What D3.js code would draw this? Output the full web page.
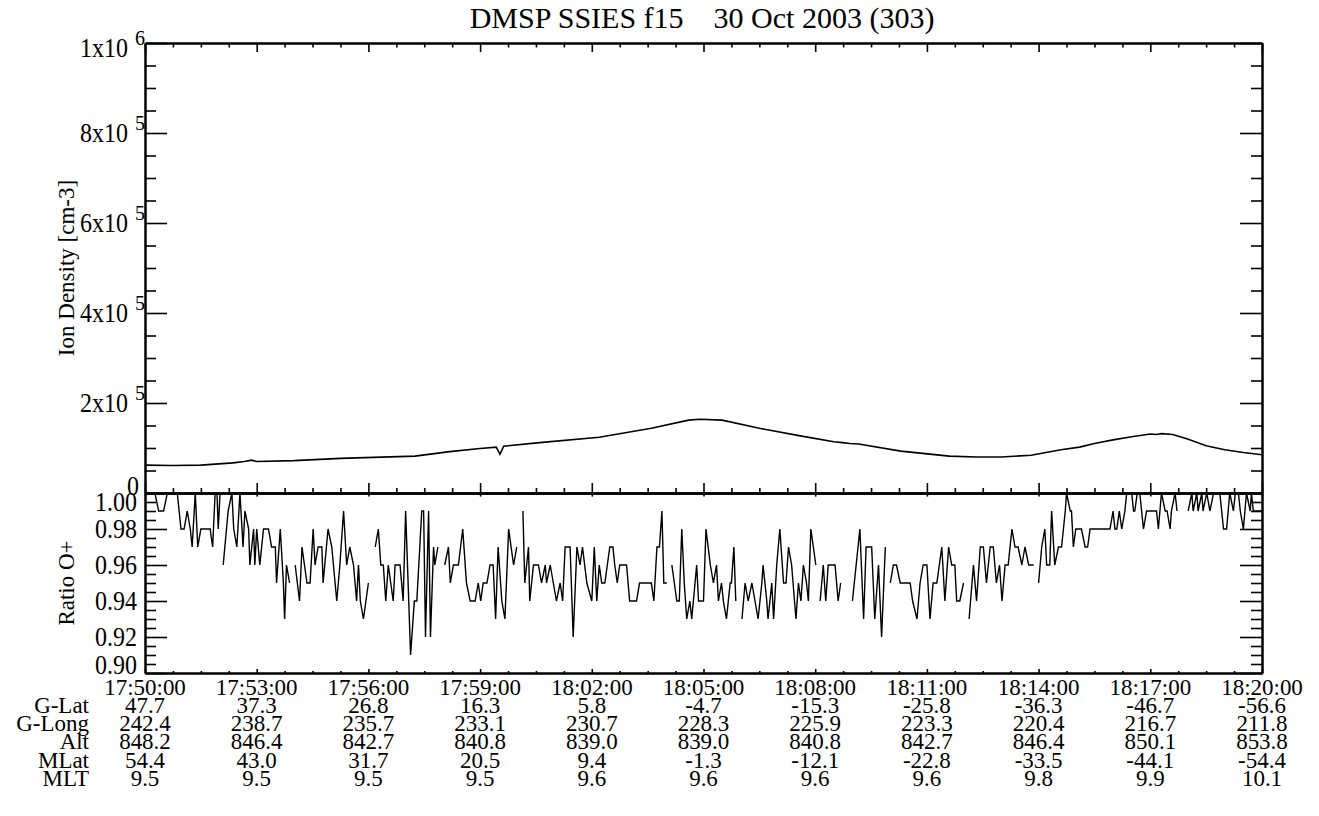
<!DOCTYPE html>
<html>
<head>
<meta charset="utf-8">
<script src="https://cdn.jsdelivr.net/npm/d3@7"></script>
<style>
  body { margin: 0; background: #fff; }
  svg text { font-family: "Liberation Serif", "Times New Roman", serif; fill: #000; white-space: pre; }
  .axis .domain { stroke: #000; stroke-width: 2; }
  .axis line { stroke: #000; stroke-width: 1.6; }
</style>
</head>
<body>
<div id="chart"></div>
<script>
(function(){

  var width = 1319, height = 816;

  // ---- data ----
  var timeLabels = ["17:50:00","17:53:00","17:56:00","17:59:00","18:02:00","18:05:00",
                    "18:08:00","18:11:00","18:14:00","18:17:00","18:20:00"];
  var tickSec = [0,180,360,540,720,900,1080,1260,1440,1620,1800];

  var rowNames = ["G-Lat","G-Long","Alt","MLat","MLT"];
  var gLat  = [47.7,37.3,26.8,16.3,5.8,-4.7,-15.3,-25.8,-36.3,-46.7,-56.6];
  var gLong = [242.4,238.7,235.7,233.1,230.7,228.3,225.9,223.3,220.4,216.7,211.8];
  var alt   = [848.2,846.4,842.7,840.8,839.0,839.0,840.8,842.7,846.4,850.1,853.8];
  var mLat  = [54.4,43.0,31.7,20.5,9.4,-1.3,-12.1,-22.8,-33.5,-44.1,-54.4];
  var mlt   = [9.5,9.5,9.5,9.5,9.6,9.6,9.6,9.6,9.8,9.9,10.1];

  var densTicks  = [0,2e5,4e5,6e5,8e5,1e6];
  var densMant   = ["0","2x10","4x10","6x10","8x10","1x10"];
  var densExp    = ["","5","5","5","5","6"];
  var ratioTicks = [0.90,0.92,0.94,0.96,0.98,1.00];

  // ion density, seconds after 17:50:00 and cm-3 (thousands)
  var densSec = [0,45,90,142,160,172,180,240,315,435,491,540,566,572,578,636,732,816,
                 876,894,930,990,1056,1110,1124,1136,1150,1218,1296,1340,1380,1428,1476,
                 1506,1530,1560,1590,1620,1630,1638,1656,1680,1710,1740,1770,1800];
  var densVal = [62,61,62,67,70,73,70,72,77,82,92,99,102,86,104,112,124,144,
                 162,164,162,144,127,114,112,110,109,93,82,80,80,84,96,
                 102,110,118,125,131,130,132,130,120,105,96,90,85];

  // O+ ratio, null = data gap
  var ratioSec = [
    0,8,16,22,30,36,44,52,58,63,68,73,76,81,85,90,95,100,105,109,113,116,118,121,124,
    126,134,140,143,148,153,158,161,167,169,175,177,180,185,191,199,204,210,212,218,223,225,228,233,237,
    242,249,253,261,266,271,274,279,285,287,295,301,309,314,320,325,330,336,341,344,347,352,360,365,
    371,376,380,384,388,392,400,403,411,416,420,428,434,438,446,449,452,457,460,465,467,472,477,
    483,489,492,497,505,512,518,524,532,537,541,545,551,556,561,565,569,575,580,586,594,599,604,
    609,612,618,620,626,634,639,645,647,653,658,663,669,673,677,685,690,696,701,705,712,720,724,728,
    732,736,741,749,754,757,761,765,771,776,781,787,792,797,808,816,820,825,829,833,836,841,845,
    849,857,861,865,869,873,878,881,889,892,900,904,911,916,921,924,929,932,937,943,945,949,952,957,
    962,967,972,978,983,988,994,996,1002,1004,1010,1013,1018,1023,1029,1033,1037,1042,1049,1053,
    1057,1061,1066,1069,1073,1077,1081,1084,
    1088,1093,1097,1101,1107,1112,1117,1121,1130,
    1140,1146,1152,1158,1162,1168,1171,1176,1182,1187,1193,1197,
    1201,1206,1211,1217,1221,1226,1233,1237,1244,1249,1254,1260,1265,1270,1276,1284,1289,1295,
    1300,1305,1308,1313,1319,1323,
    1328,1335,1340,1346,1351,1356,1362,1367,1372,1377,1381,1386,1391,1397,1402,1407,1413,1418,
    1424,1426,1432,1436,
    1440,1445,1450,1453,1458,1461,1466,1472,1477,1483,1485,1491,1493,1496,1500,1504,1509,1515,
    1519,1523,1534,1544,1555,1560,1563,1566,1570,1574,1579,1582,1587,1593,1595,1599,1603,1609,
    1614,1620,1625,1630,1633,1638,1644,1647,1652,1654,1660,1663,1672,
    1681,1687,1689,1695,1697,1703,1705,1711,1716,1722,1727,1732,1738,1743,1748,1754,1757,1762,
    1765,1770,1775,1781,1783,1786,1791,1796,1800];
  var ratioVal = [
    1.00,1.00,1.00,0.99,0.99,1.00,1.01,1.00,0.98,0.98,0.99,0.98,0.97,1.00,0.97,0.98,0.98,0.98,0.98,0.97,1.00,1.00,0.98,1.00,null,
    0.96,0.99,1.00,0.98,0.97,1.00,0.97,0.99,0.98,0.96,0.98,0.96,0.98,0.96,0.98,0.98,0.97,0.97,0.95,0.98,0.95,0.93,0.96,0.95,null,
    0.96,0.94,0.97,0.95,0.95,0.98,0.96,0.97,0.97,0.95,0.98,0.97,0.94,0.96,0.99,0.96,0.97,0.96,0.94,0.96,0.94,0.93,0.95,null,
    0.97,0.98,0.96,0.96,0.94,0.96,0.94,0.96,0.96,0.94,0.99,0.91,0.94,0.94,0.99,0.99,0.92,0.99,0.92,0.97,0.96,0.97,null,
    0.96,0.97,0.95,0.96,0.96,0.98,0.95,0.94,0.94,0.95,0.94,0.95,0.95,0.96,0.96,0.93,0.97,0.94,0.93,0.98,0.96,0.97,null,
    0.99,0.95,0.97,0.94,0.96,0.96,0.95,0.96,0.95,0.96,0.95,0.94,0.95,0.94,0.97,0.97,0.92,0.97,0.96,0.97,0.95,0.94,0.97,0.94,
    0.96,0.95,0.95,0.97,0.97,0.96,0.95,0.96,0.96,0.96,0.94,0.94,0.94,0.95,0.95,0.95,0.94,0.97,0.97,0.99,0.95,0.95,null,
    0.96,0.94,0.94,0.98,0.95,0.93,0.94,0.93,0.96,0.94,0.94,0.98,0.96,0.95,0.96,0.94,0.95,0.94,0.93,0.95,0.95,0.97,0.94,null,
    0.93,0.95,0.94,0.95,0.94,0.93,0.95,0.96,0.94,0.93,0.95,0.93,0.96,0.98,0.95,0.95,0.97,0.96,0.93,0.95,
    0.94,0.96,0.95,0.94,0.98,0.97,0.96,null,
    0.94,0.96,0.94,0.96,0.96,0.96,0.94,0.95,null,
    0.94,0.96,0.98,0.93,0.97,0.97,0.97,0.93,0.96,0.92,0.97,null,
    0.95,0.96,0.96,0.95,0.95,0.95,0.95,0.94,0.93,0.95,0.96,0.96,0.93,0.95,0.95,0.97,0.94,0.97,
    0.96,0.96,0.94,0.94,0.95,null,
    0.93,0.96,0.94,0.97,0.97,0.95,0.97,0.97,0.95,0.96,0.94,0.96,0.96,0.98,0.97,0.97,0.96,0.97,
    0.96,0.96,0.96,null,
    0.95,0.97,0.98,0.96,0.96,0.99,0.96,0.97,0.97,0.99,1.00,0.99,0.99,0.97,0.98,0.98,0.98,0.97,
    0.97,0.98,0.98,0.98,0.98,0.99,0.98,0.98,0.99,0.98,0.99,1.00,1.01,0.99,0.99,1.00,1.00,0.98,
    0.99,0.99,0.99,0.99,0.98,1.00,0.99,0.99,0.98,0.99,1.00,0.99,null,
    0.99,1.00,0.99,1.00,0.99,1.00,0.99,1.00,0.99,1.00,1.01,1.00,0.98,0.98,1.00,0.99,1.00,1.00,
    0.99,0.98,1.00,0.99,1.00,0.99,0.99,0.99,0.99];

  // ---- layout ----
  var left = 145, right = 1262;
  var topTop = 43, topBot = 493, botBot = 673;

  var x  = d3.scaleLinear().domain([0,1800]).range([left,right]);
  var yD = d3.scaleLinear().domain([0,1e6]).range([topBot,topTop]);
  var yR = d3.scaleLinear().domain([0.90,1.00]).range([botBot,topBot]);

  var minorSec   = d3.range(0,1801,45).filter(function(s){ return s % 180 !== 0; });
  var minorDens  = d3.range(0,1e6+1,5e4).filter(function(v){ return v % 2e5 !== 0; });
  var minorRatio = d3.range(0,21).map(function(i){ return 0.90 + i*0.005; })
                     .filter(function(v,i){ return i % 4 !== 0; });

  var svg = d3.select("#chart").append("svg")
      .attr("width", width)
      .attr("height", height);

  svg.append("rect").attr("width", width).attr("height", height).attr("fill", "#fff");

  function label(g, px, py, s, anchor, size, rot, sy){
    var tr = "translate(" + px + "," + py + ")" + (rot ? " rotate(" + rot + ")" : "") +
             " scale(1," + (sy || 1.1) + ")";
    return g.append("text")
        .attr("transform", tr)
        .attr("text-anchor", anchor)
        .style("font-size", size + "px")
        .text(s);
  }

  function xAxis(gen, yPos, major, minor){
    svg.append("g").attr("class","axis").attr("transform","translate(0," + yPos + ")")
        .call(gen(x).tickValues(tickSec).tickSize(major).tickSizeOuter(0).tickFormat(""));
    svg.append("g").attr("class","axis").attr("transform","translate(0," + yPos + ")")
        .call(gen(x).tickValues(minorSec).tickSize(minor).tickSizeOuter(0).tickFormat(""));
  }

  function yAxis(scale, gen, xPos, majors, minors){
    svg.append("g").attr("class","axis").attr("transform","translate(" + xPos + ",0)")
        .call(gen(scale).tickValues(majors).tickSize(-22).tickSizeOuter(0).tickFormat(""));
    svg.append("g").attr("class","axis").attr("transform","translate(" + xPos + ",0)")
        .call(gen(scale).tickValues(minors).tickSize(-11).tickSizeOuter(0).tickFormat(""));
  }

  // clip paths
  var defs = svg.append("defs");
  defs.append("clipPath").attr("id","clipTop").append("rect")
      .attr("x", left).attr("y", topTop).attr("width", right-left).attr("height", topBot-topTop);
  defs.append("clipPath").attr("id","clipBot").append("rect")
      .attr("x", left).attr("y", topBot).attr("width", right-left).attr("height", botBot-topBot);

  // ---- top panel: ion density ----
  var densData = densSec.map(function(s,i){ return {t:s, v:densVal[i]*1000}; });
  var densLine = d3.line().x(function(d){ return x(d.t); }).y(function(d){ return yD(d.v); });

  svg.append("path")
      .datum(densData)
      .attr("clip-path","url(#clipTop)")
      .attr("d", densLine)
      .attr("fill","none")
      .attr("stroke","#000")
      .attr("stroke-width",1.6);

  // ---- bottom panel: O+ ratio ----
  var ratioData = ratioSec.map(function(s,i){ return {t:s, v:ratioVal[i]}; });
  var ratioLine = d3.line()
      .defined(function(d){ return d.v !== null; })
      .x(function(d){ return x(d.t); })
      .y(function(d){ return yR(d.v); });

  svg.append("path")
      .datum(ratioData)
      .attr("clip-path","url(#clipBot)")
      .attr("d", ratioLine)
      .attr("fill","none")
      .attr("stroke","#000")
      .attr("stroke-width",1.4);

  // ---- axes ----
  xAxis(d3.axisTop,    topTop, -9, -4.5);
  xAxis(d3.axisBottom, topBot, -10, -5);
  xAxis(d3.axisTop,    topBot, -3.6, -1.8);
  xAxis(d3.axisBottom, botBot, -4, -2);

  yAxis(yD, d3.axisLeft,  left,  densTicks, minorDens);
  yAxis(yD, d3.axisRight, right, densTicks, minorDens);
  yAxis(yR, d3.axisLeft,  left,  ratioTicks, minorRatio);
  yAxis(yR, d3.axisRight, right, ratioTicks, minorRatio);

  // ---- labels ----
  var lab = svg.append("g");

  label(lab, 702, 28, "DMSP SSIES f15    30 Oct 2003 (303)", "middle", 30, 0, 1.0);

  densTicks.forEach(function(v,i){
    var yy = yD(v);
    if(v === 0){
      label(lab, 133, 495, densMant[i], "middle", 24);
      return;
    }
    if(v === 1e6) yy += 5;
    label(lab, 128, yy + 9, densMant[i], "end", 24);
    label(lab, 135, yy - 3, densExp[i], "start", 20);
  });

  ratioTicks.forEach(function(v){
    var yy = yR(v);
    if(v >= 1.0) yy = 502;
    if(v <= 0.9) yy = 665;
    label(lab, 137, yy + 9, v.toFixed(2), "end", 24);
  });

  label(lab, 74, (topTop+topBot)/2, "Ion Density [cm-3]", "middle", 23, -90, 1.0);
  label(lab, 74, (topBot+botBot)/2, "Ratio O+", "middle", 23, -90, 1.0);

  tickSec.forEach(function(s,i){
    label(lab, x(s), 695, timeLabels[i], "middle", 23, 0, 1.03);
  });

  var rows = [gLat, gLong, alt, mLat, mlt];
  var rowBase = [713, 731, 749, 768, 786];
  rows.forEach(function(vals, r){
    label(lab, 89, rowBase[r], rowNames[r], "end", 23, 0, 1.03);
    vals.forEach(function(v,i){
      label(lab, x(tickSec[i]), rowBase[r], v.toFixed(1), "middle", 23, 0, 1.03);
    });
  });

})();
</script>
</body>
</html>
